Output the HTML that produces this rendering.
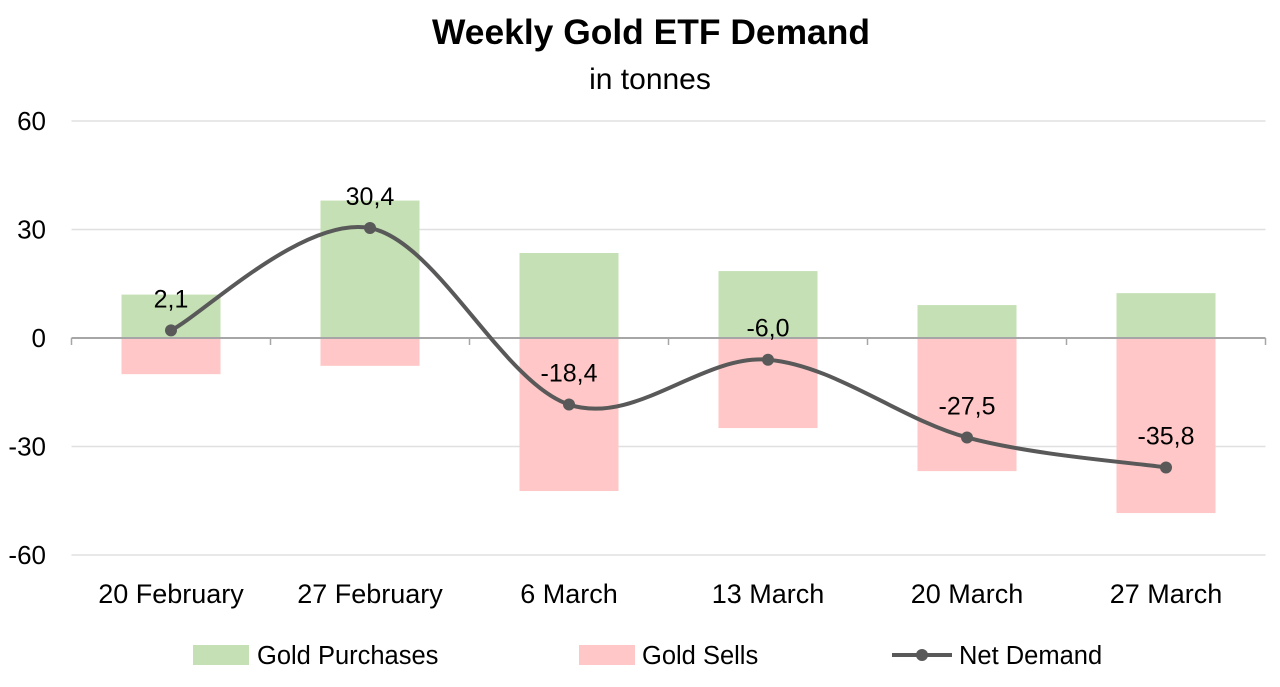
<!DOCTYPE html>
<html><head><meta charset="utf-8">
<style>
body{margin:0;background:#fff;}
svg text{font-family:"Liberation Sans",sans-serif;fill:#000;}
</style></head>
<body>
<svg id="chart" width="1280" height="682" xmlns="http://www.w3.org/2000/svg">
<text x="651" y="44" text-anchor="middle" font-size="35" font-weight="bold" textLength="438" lengthAdjust="spacingAndGlyphs">Weekly Gold ETF Demand</text>
<text x="650" y="89" text-anchor="middle" font-size="30">in tonnes</text>
<g id="grid"></g><g id="bars"></g><g id="line"></g><g id="labels"></g>
<g>
<rect x="193" y="645" width="56" height="20" fill="#c5e0b4"/>
<text x="257" y="664" font-size="25.5">Gold Purchases</text>
<rect x="579" y="645" width="56" height="20" fill="#ffc7c7"/>
<text x="642" y="664" font-size="25.5">Gold Sells</text>
<line x1="892" y1="655" x2="952" y2="655" stroke="#595959" stroke-width="4"/>
<circle cx="922" cy="655" r="6" fill="#595959"/>
<text x="959" y="664" font-size="25.5">Net Demand</text>
</g>
</svg>
<script>
const categories=["20 February","27 February","6 March","13 March","20 March","27 March"];
const purchases=[12,38,23.5,18.5,9.1,12.4];
const sells=[-10,-7.7,-42.3,-24.9,-36.8,-48.4];
const net=[2.1,30.4,-18.4,-6.0,-27.5,-35.8];
const netLabels=["2,1","30,4","-18,4","-6,0","-27,5","-35,8"];
const yTicks=[60,30,0,-30,-60];
const NS="http://www.w3.org/2000/svg";
const left=71.5,right=1265.5,step=(right-left)/categories.length,bw=99;
const y=v=>338-v*(108.5/30);
const cx=i=>left+step*(i+0.5);
function mk(tag,attrs,parent){const e=document.createElementNS(NS,tag);for(const k in attrs)e.setAttribute(k,attrs[k]);document.getElementById(parent).appendChild(e);return e;}
yTicks.forEach(t=>{
 if(t!==0){const g=mk('line',{x1:left,x2:right,y1:y(t),y2:y(t),stroke:'#e0e0e0','stroke-width':1.5},'grid');
 
 }
 const l=mk('text',{x:46,y:y(t)+9,'text-anchor':'end','font-size':26},'grid');l.textContent=t;
 
 
});
categories.forEach((c,i)=>{
 const p=mk('rect',{x:cx(i)-bw/2,y:y(purchases[i]),width:bw,height:y(0)-y(purchases[i]),fill:'#c5e0b4'},'bars');
 
 
 const s=mk('rect',{x:cx(i)-bw/2,y:y(0),width:bw,height:y(sells[i])-y(0),fill:'#ffc7c7'},'bars');
 
 
 const t=mk('text',{x:cx(i),y:603,'text-anchor':'middle','font-size':27},'labels');t.textContent=c;
 
 
});
const ax=mk('line',{x1:left,x2:right,y1:y(0),y2:y(0),stroke:'#a6a6a6','stroke-width':2},'bars');


for(let i=0;i<=categories.length;i++){const tk=mk('line',{x1:left+step*i,x2:left+step*i,y1:y(0),y2:y(0)+7,stroke:'#a6a6a6','stroke-width':1.5},'bars');
 
 }
const pts=net.map((v,i)=>[cx(i),y(v)]);
let d=`M${pts[0][0]},${pts[0][1]}`;
for(let i=0;i<pts.length-1;i++){
 const p0=pts[Math.max(0,i-1)],p1=pts[i],p2=pts[i+1],p3=pts[Math.min(pts.length-1,i+2)];
 const c1=[p1[0]+(p2[0]-p0[0])/6,p1[1]+(p2[1]-p0[1])/6],c2=[p2[0]-(p3[0]-p1[0])/6,p2[1]-(p3[1]-p1[1])/6];
 d+=` C${c1[0]},${c1[1]} ${c2[0]},${c2[1]} ${p2[0]},${p2[1]}`;
}
const ln=mk('path',{d:d,fill:'none',stroke:'#595959','stroke-width':4},'line');


pts.forEach((p,i)=>{
 const c=mk('circle',{cx:p[0],cy:p[1],r:6,fill:'#595959'},'line');
 
 
 const t=mk('text',{x:p[0],y:p[1]-23,'text-anchor':'middle','font-size':25},'labels');t.textContent=netLabels[i];
 
 
});
</script>
</body></html>
